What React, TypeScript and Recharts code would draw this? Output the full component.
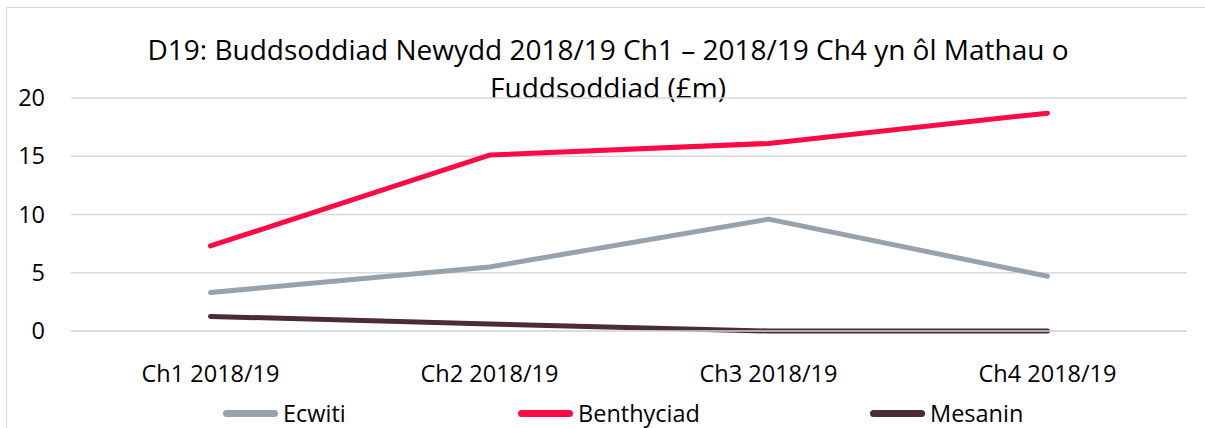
import { LineChart, Line, XAxis, YAxis, CartesianGrid } from 'recharts'

const CATEGORIES = ['Ch1 2018/19', 'Ch2 2018/19', 'Ch3 2018/19', 'Ch4 2018/19']
const ECWITI = [3.3, 5.5, 9.6, 4.7]
const BENTHYCIAD = [7.3, 15.1, 16.1, 18.7]
const MESANIN = [1.25, 0.6, 0, 0]
const Y_TICKS = [0, 5, 10, 15, 20]
const TITLE_LINES = ['D19: Buddsoddiad Newydd 2018/19 Ch1 – 2018/19 Ch4 yn ôl Mathau o', 'Fuddsoddiad (£m)']

const SERIES = [
  { key: 'ecwiti', label: 'Ecwiti', color: '#98a1ae', values: ECWITI },
  { key: 'benthyciad', label: 'Benthyciad', color: '#ff0a45', values: BENTHYCIAD },
  { key: 'mesanin', label: 'Mesanin', color: '#4b2b36', values: MESANIN },
]

const data = CATEGORIES.map((c, i) => {
  const row: Record<string, string | number> = { cat: c }
  SERIES.forEach(s => { row[s.key] = s.values[i] })
  return row
})

const FONT = '"Open Sans", sans-serif'
const GRID = '#d9d9d9'
// legend x positions
const LEGEND_X = [223, 518, 870]

function XTick({ x, y, payload }: any) {
  return (
    <text x={x} y={y + 43} textAnchor="middle" fontSize={23.5} fontFamily={FONT} fill="#000">
      {payload.value}
    </text>
  )
}

function YTick({ y, payload }: any) {
  return (
    <text x={45} y={y + 8} textAnchor="end" fontSize={23.5} fontFamily={FONT} fill="#000">
      {payload.value}
    </text>
  )
}

export default function App() {
  return (
    <div style={{ position: 'absolute', left: 0, top: 0, width: 1205, height: 428, overflow: 'hidden', background: '#fff', fontFamily: FONT }}>
      <div style={{ position: 'absolute', left: 6, top: 7, width: 1230, height: 460, border: `1.5px solid ${GRID}`, boxSizing: 'border-box' }} />
      <div style={{ position: 'absolute', left: 0, top: 30, width: 1216, textAlign: 'center', fontSize: 28, lineHeight: '38px', color: '#000' }}>
        {TITLE_LINES.map(t => <div key={t}>{t}</div>)}
      </div>
      <div style={{ position: 'absolute', left: 0, top: 0 }}>
        <LineChart width={1205} height={428} data={data} margin={{ top: 98, right: 18, bottom: 0, left: 0 }}>
          <CartesianGrid vertical={false} stroke={GRID} strokeWidth={1.5} />
          <XAxis dataKey="cat" height={97} padding={{ left: 139.5, right: 139.5 }} axisLine={{ stroke: GRID, strokeWidth: 1.5 }}
            tickLine={false} tick={<XTick />} interval={0} />
          <YAxis width={71} domain={[0, 20]} ticks={Y_TICKS} axisLine={false} tickLine={false} tick={<YTick />} />
          {SERIES.map(s => (
            <Line key={s.key} type="linear" dataKey={s.key} stroke={s.color} strokeWidth={5} strokeLinecap="round"
              strokeLinejoin="round" dot={false} activeDot={false} isAnimationActive={false} />
          ))}
        </LineChart>
      </div>
      {SERIES.map((s, i) => (
        <div key={s.key} style={{ position: 'absolute', left: LEGEND_X[i], top: 396, height: 34, display: 'flex', alignItems: 'center' }}>
          <span style={{ width: 55, height: 7, borderRadius: 4, background: s.color, display: 'inline-block' }} />
          <span style={{ marginLeft: 5, fontSize: 23.5, color: '#000' }}>{s.label}</span>
        </div>
      ))}
    </div>
  )
}
